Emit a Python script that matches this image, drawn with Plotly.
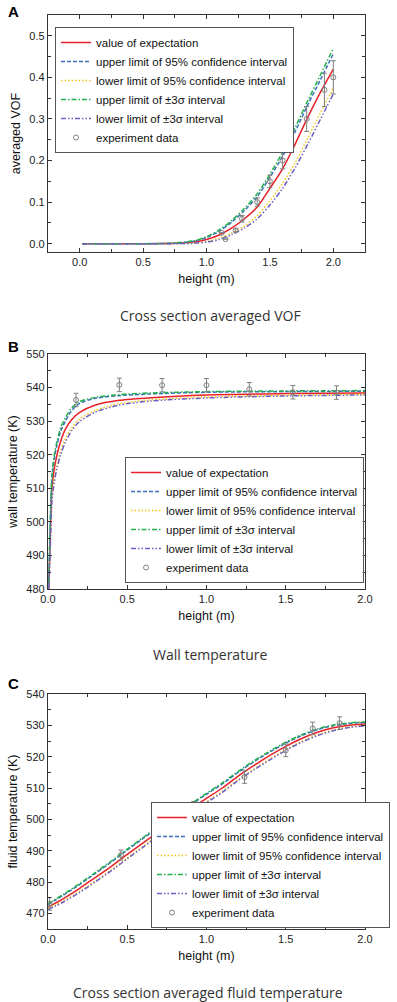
import plotly.graph_objects as go

# ---------------- Panel A: cross-section averaged VOF ----------------
a_x = [0.02, 0.25, 0.5, 0.75, 0.9, 1.0, 1.1, 1.2, 1.3, 1.4, 1.5, 1.6, 1.7, 1.8, 1.9, 2.0]
a_expect = [0, 0, 0, 0.001, 0.004, 0.010, 0.021, 0.038, 0.060, 0.088, 0.133, 0.180, 0.240, 0.305, 0.365, 0.420]
a_up95 = [0, 0, 0, 0.001, 0.006, 0.015, 0.030, 0.052, 0.080, 0.113, 0.160, 0.210, 0.270, 0.335, 0.395, 0.457]
a_lo95 = [0, 0, 0, 0.000, 0.001, 0.005, 0.013, 0.026, 0.043, 0.068, 0.103, 0.145, 0.195, 0.255, 0.315, 0.375]
a_up3s = [0, 0, 0, 0.002, 0.007, 0.017, 0.033, 0.056, 0.085, 0.120, 0.167, 0.220, 0.280, 0.345, 0.407, 0.470]
a_lo3s = [0, 0, 0, 0.000, 0.001, 0.004, 0.010, 0.022, 0.038, 0.060, 0.093, 0.133, 0.183, 0.240, 0.300, 0.360]
a_exp_x = [1.12, 1.15, 1.23, 1.28, 1.40, 1.50, 1.60, 1.79, 1.93, 2.00]
a_exp_y = [0.026, 0.011, 0.032, 0.060, 0.100, 0.150, 0.200, 0.300, 0.370, 0.400]
a_exp_err = [0.0, 0.0, 0.004, 0.008, 0.010, 0.015, 0.020, 0.030, 0.040, 0.040]

# ---------------- Panel B: wall temperature ----------------
b_x = [0.005, 0.015, 0.025, 0.04, 0.057, 0.08, 0.11, 0.15, 0.2, 0.3, 0.45, 0.65, 1.0, 1.5, 2.0]
b_expect = [480, 497, 510, 516, 520, 524, 527.6, 530.5, 532.6, 534.8, 536.2, 537.0, 537.8, 538.2, 538.4]
b_up95 = [481, 500, 513, 519, 523, 527, 530.0, 533.2, 535.3, 536.8, 537.6, 538.1, 538.6, 538.8, 538.9]
b_lo95 = [480, 494, 507, 513, 517, 521, 524.8, 528.0, 530.6, 533.2, 535.2, 536.3, 537.2, 537.7, 538.0]
b_up3s = [482, 502, 514, 520, 524, 528, 531.0, 534.0, 535.8, 537.1, 537.9, 538.4, 538.8, 539.0, 539.1]
b_lo3s = [480, 493, 506, 512, 516, 520, 523.8, 527.2, 529.9, 532.7, 534.8, 536.0, 536.9, 537.5, 537.8]
b_exp_x = [0.177, 0.45, 0.72, 1.0, 1.27, 1.545, 1.82]
b_exp_y = [536.3, 540.8, 540.7, 540.7, 539.5, 538.6, 538.5]
b_exp_err = [2.0, 2.0, 2.0, 2.0, 2.0, 2.0, 2.0]

# ---------------- Panel C: fluid temperature ----------------
c_x = [0, 0.1, 0.2, 0.3, 0.4, 0.5, 0.6, 0.7, 0.8, 0.9, 1.0, 1.1, 1.2, 1.3, 1.4, 1.5, 1.6, 1.7, 1.8, 1.9, 2.0]
c_expect = [472.0, 474.8, 478.0, 481.5, 485.0, 488.8, 492.5, 496.2, 499.8, 503.3, 506.7, 510.0, 513.8, 517.2, 520.4, 523.3, 525.8, 527.8, 529.2, 530.0, 530.4]
c_up95 = [472.8, 475.9, 479.2, 482.8, 486.4, 490.2, 493.9, 497.6, 501.1, 504.6, 508.0, 511.3, 515.0, 518.4, 521.5, 524.3, 526.7, 528.6, 529.9, 530.6, 530.9]
c_lo95 = [471.5, 474.0, 477.0, 480.4, 483.9, 487.7, 491.4, 495.1, 498.7, 502.2, 505.6, 508.9, 512.7, 516.1, 519.3, 522.3, 524.9, 527.0, 528.5, 529.5, 530.0]
c_up3s = [473.0, 476.2, 479.5, 483.1, 486.7, 490.5, 494.2, 497.9, 501.4, 504.9, 508.3, 511.6, 515.3, 518.7, 521.8, 524.6, 527.0, 528.9, 530.1, 530.8, 531.1]
c_lo3s = [471.2, 473.7, 476.7, 480.1, 483.6, 487.4, 491.1, 494.8, 498.4, 501.9, 505.3, 508.6, 512.4, 515.8, 519.0, 522.0, 524.6, 526.7, 528.3, 529.3, 529.8]
c_exp_x = [0.01, 0.46, 0.92, 1.24, 1.50, 1.67, 1.84]
c_exp_y = [473.0, 488.6, 504.2, 513.5, 522.0, 529.0, 530.7]
c_exp_err = [2.0, 1.6, 1.5, 2.0, 2.0, 2.0, 2.0]

# ---------------- styles ----------------
names = ["value of expectation",
         "upper limit of 95% confidence interval",
         "lower limit of 95% confidence interval",
         "upper limit of ±3σ interval",
         "lower limit of ±3σ interval",
         "experiment data"]
colors = ["#e8202a", "#3d6fb6", "#f5c518", "#22b14c", "#6b5fc4"]
dashes = ["solid", "4px,2px", "1.5px,2px", "5px,2px,1.5px,2px", "5px,2px,1.5px,2px,1.5px,2px"]
GRAY = "#7f7f7f"

W, H = 397, 1002
fig = go.Figure()

panels = [
    ("x", "y", "legend", a_x, [a_expect, a_up95, a_lo95, a_up3s, a_lo3s], a_exp_x, a_exp_y, a_exp_err),
    ("x2", "y2", "legend2", b_x, [b_expect, b_up95, b_lo95, b_up3s, b_lo3s], b_exp_x, b_exp_y, b_exp_err),
    ("x3", "y3", "legend3", c_x, [c_expect, c_up95, c_lo95, c_up3s, c_lo3s], c_exp_x, c_exp_y, c_exp_err),
]

for xa, ya, lg, xs, series, ex, ey, ee in panels:
    for i, ys in enumerate(series):
        fig.add_trace(go.Scatter(
            x=xs, y=ys, mode="lines", name=names[i], xaxis=xa, yaxis=ya, legend=lg,
            line=dict(color=colors[i], width=1.5, dash=dashes[i], shape="spline", smoothing=0.8)))
    fig.add_trace(go.Scatter(
        x=ex, y=ey, mode="markers", name=names[5], xaxis=xa, yaxis=ya, legend=lg,
        marker=dict(symbol="circle-open", size=5, color=GRAY, line=dict(width=1, color=GRAY)),
        error_y=dict(type="data", array=ee, visible=True, color=GRAY, thickness=1, width=2.5)))

def px_x(p):
    return p / W

def px_y(p):
    return 1 - p / H

FONT = "Liberation Sans, Arial, sans-serif"

def axis(domain, rng, dtick, minor, title, standoff, fmt=None):
    d = dict(domain=domain, range=rng, dtick=dtick, tick0=0, automargin=False,
             showline=True, mirror="allticks", linecolor="#333", linewidth=1.3,
             ticks="inside", ticklen=4, tickwidth=1, tickcolor="#333",
             minor=dict(ticks="inside", ticklen=2.5, dtick=minor, tickcolor="#333", tickwidth=1),
             showgrid=False, zeroline=False,
             tickfont=dict(family=FONT, size=11, color="#222"),
             title=dict(text=title, font=dict(family=FONT, size=12.5, color="#111"), standoff=standoff))
    if fmt:
        d["tickformat"] = fmt
    return d

xdom = [px_x(48), px_x(365)]

layout = dict(
    width=W, height=H, margin=dict(l=0, r=0, t=0, b=0, autoexpand=False),
    paper_bgcolor="white", plot_bgcolor="white", showlegend=True,
    xaxis=axis(xdom, [-0.25, 2.25], 0.5, 0.25, "height (m)", 6, ".1f"),
    yaxis=axis([px_y(252), px_y(15)], [-0.02, 0.55], 0.1, 0.05, "averaged VOF", 5, ".1f"),
    xaxis2=axis(xdom, [0, 2.0], 0.5, 0.25, "height (m)", 6, ".1f"),
    yaxis2=axis([px_y(589), px_y(354)], [480, 550], 10, 5, "wall temperature (K)", 5),
    xaxis3=axis(xdom, [0, 2.0], 0.5, 0.25, "height (m)", 6, ".1f"),
    yaxis3=axis([px_y(929), px_y(694)], [465, 540], 10, 5, "fluid temperature (K)", 5),
)
layout["xaxis"]["anchor"] = "y"
layout["yaxis"]["anchor"] = "x"
layout["xaxis2"]["anchor"] = "y2"
layout["yaxis2"]["anchor"] = "x2"
layout["xaxis3"]["anchor"] = "y3"
layout["yaxis3"]["anchor"] = "x3"

leg_common = dict(bgcolor="white", bordercolor="#555", borderwidth=1,
                  font=dict(family=FONT, size=11.5, color="#111"), xanchor="left",
                  tracegroupgap=0, itemwidth=30)
layout["legend"] = dict(leg_common, x=px_x(55), y=px_y(27), yanchor="top")
layout["legend2"] = dict(leg_common, x=px_x(125), y=px_y(583), yanchor="bottom")
layout["legend3"] = dict(leg_common, x=px_x(151), y=px_y(928), yanchor="bottom")

fig.update_layout(**layout)

CAP = "Open Sans, sans-serif"
anns = [
    ("A", 6, 12, True), ("B", 6, 347, True), ("C", 6, 683, True),
]
for t, xp, yp, b in anns:
    fig.add_annotation(text=f"<b>{t}</b>", xref="paper", yref="paper", x=px_x(xp), y=px_y(yp),
                       xanchor="left", yanchor="middle", showarrow=False,
                       font=dict(family=FONT, size=15, color="#000"))
caps = [("Cross section averaged VOF", 210, 315),
        ("Wall temperature", 210, 654),
        ("Cross section averaged fluid temperature", 208, 992)]
for t, xp, yp in caps:
    fig.add_annotation(text=t, xref="paper", yref="paper", x=px_x(xp), y=px_y(yp),
                       xanchor="center", yanchor="middle", showarrow=False,
                       font=dict(family=CAP, size=14, color="#333"))

fig.write_html("out.html", config={"displayModeBar": False},
               post_script="document.body.style.margin='0';document.body.style.overflow='hidden';")
